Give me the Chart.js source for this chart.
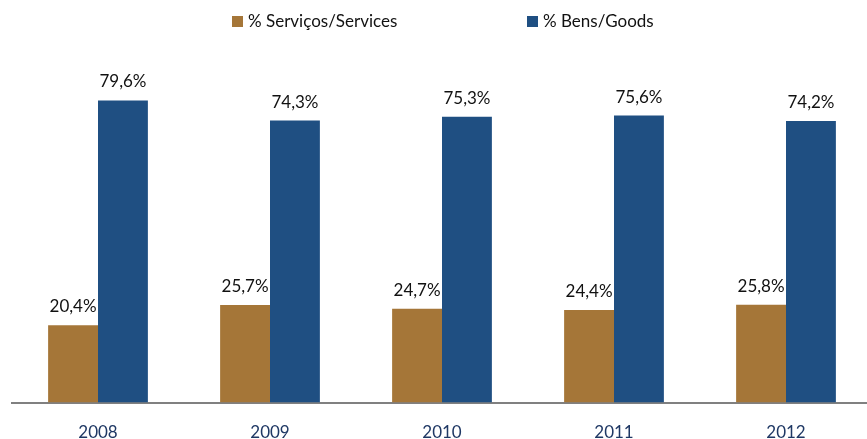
<!DOCTYPE html>
<html>
<head>
<meta charset="utf-8">
<script src="https://cdn.jsdelivr.net/npm/chart.js@4.4.1/dist/chart.umd.min.js"></script>
<style>
  html, body { margin: 0; padding: 0; background: #fff; overflow: hidden; }
  #wrap { width: 872px; height: 467px; position: relative; }
</style>
</head>
<body>
<div id="wrap"><canvas id="grafico"></canvas></div>
<script>
const anos = ['2008', '2009', '2010', '2011', '2012'];
const servicos = [20.4, 25.7, 24.7, 24.4, 25.8];
const bens = [79.6, 74.3, 75.3, 75.6, 74.2];
const nomesSeries = ['% Serviços/Services', '% Bens/Goods'];
const cores = ['#A57638', '#1F4F82'];

const fonte = 'Lato, "Open Sans", sans-serif';

// rótulos de valor acima das barras
const rotulosValor = {
    id: 'rotulosValor',
    afterDatasetsDraw(chart) {
        const ctx = chart.ctx;
        ctx.save();
        ctx.font = '17px ' + fonte;
        ctx.fillStyle = '#111';
        ctx.textAlign = 'center';
        ctx.textBaseline = 'bottom';
        chart.data.datasets.forEach((ds, i) => {
            chart.getDatasetMeta(i).data.forEach((bar, j) => {
                const txt = ds.data[j].toFixed(1).replace('.', ',') + '%';
                ctx.fillText(txt, bar.x, bar.y - 10);
            });
        });
        ctx.restore();
    }
};

// legenda desenhada à mão (espaçamento largo como no original)
const legendaTopo = {
    id: 'legendaTopo',
    afterDraw(chart) {
        const ctx = chart.ctx;
        ctx.save();
        ctx.font = '17px ' + fonte;
        ctx.textBaseline = 'middle';
        ctx.textAlign = 'left';
        const posX = [232, 527];
        chart.data.datasets.forEach((ds, i) => {
            ctx.fillStyle = ds.backgroundColor;
            ctx.fillRect(posX[i], 16, 11, 11);
            ctx.fillStyle = '#111';
            ctx.fillText(ds.label, posX[i] + 16, 22);
        });
        ctx.restore();
    }
};

new Chart(document.getElementById('grafico'), {
    type: 'bar',
    data: {
        labels: anos,
        datasets: [
            { label: nomesSeries[0], data: servicos, backgroundColor: cores[0] },
            { label: nomesSeries[1], data: bens, backgroundColor: cores[1] }
        ]
    },
    options: {
        responsive: true,
        maintainAspectRatio: false,
        animation: false,
        layout: { padding: { top: 23, left: 12, right: 0, bottom: 4 } },
        datasets: { bar: { barPercentage: 1, categoryPercentage: 0.58 } },
        plugins: {
            legend: { display: false },
            tooltip: { enabled: false }
        },
        scales: {
            x: {
                grid: { display: false, drawTicks: false },
                border: { color: '#808080', width: 2 },
                ticks: { color: '#1F3864', font: { family: fonte, size: 17 }, padding: 20 }
            },
            y: {
                display: false,
                min: 0,
                max: 100
            }
        }
    },
    plugins: [rotulosValor, legendaTopo]
});
</script>
</body>
</html>
